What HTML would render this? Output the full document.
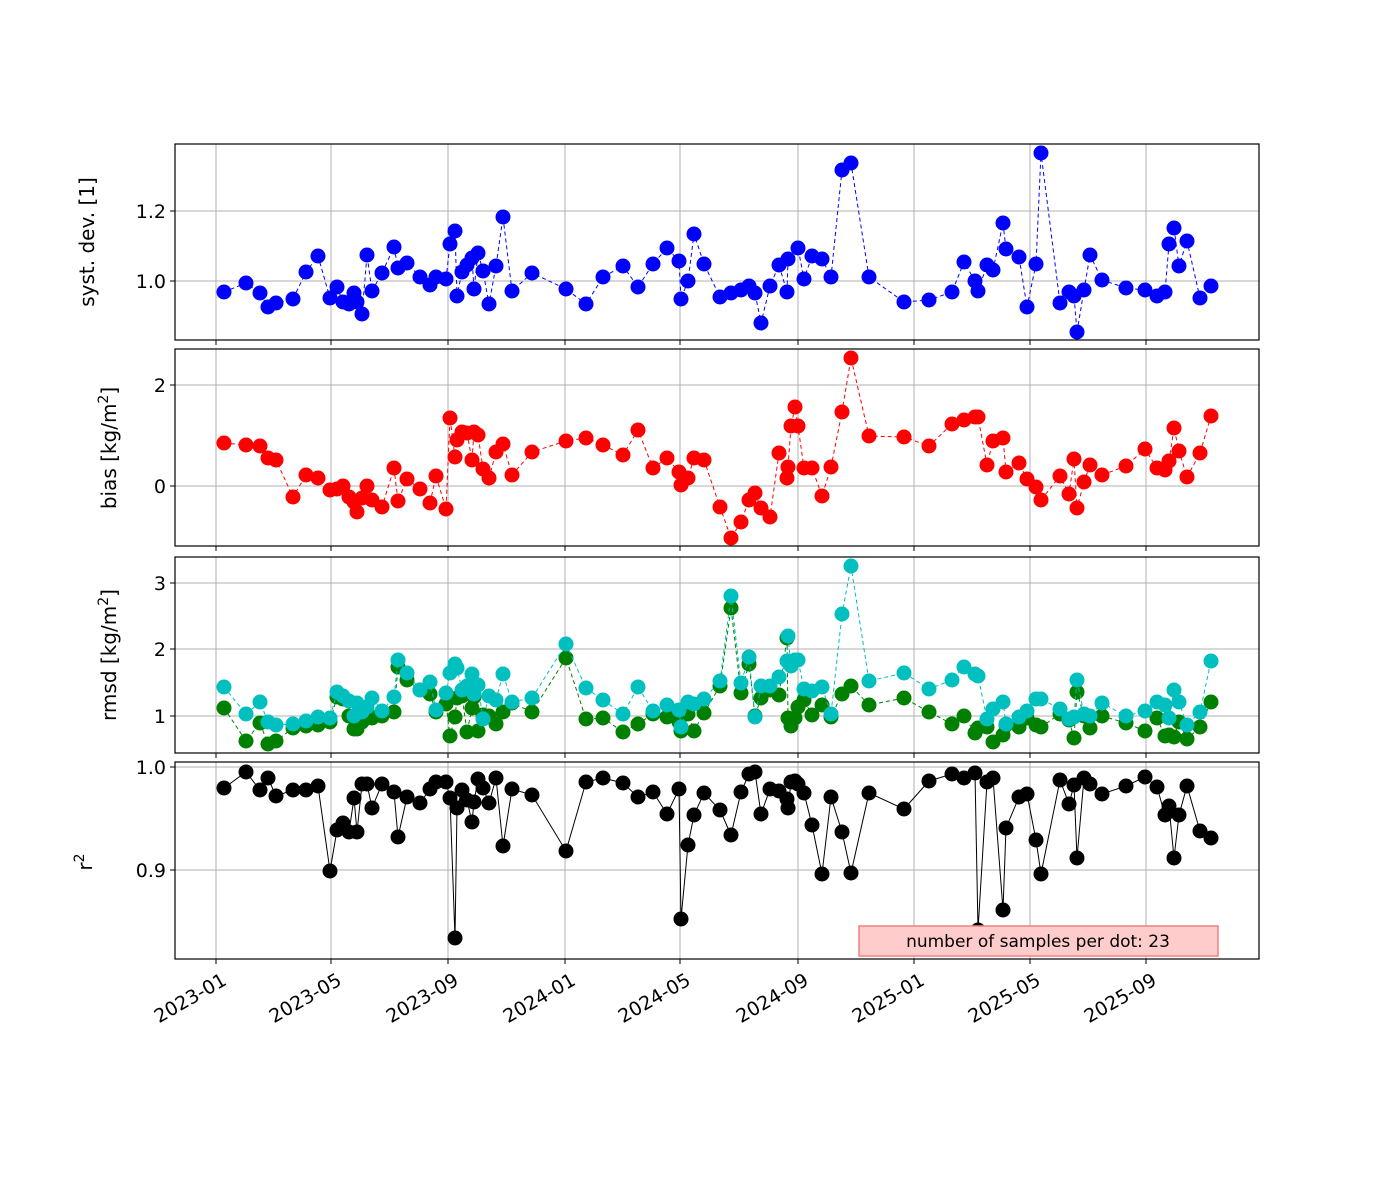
<!DOCTYPE html>
<html><head><meta charset="utf-8"><style>
body{margin:0;background:#fff}
svg{display:block;font-family:"DejaVu Sans","Liberation Sans",sans-serif}
</style></head><body>
<svg id="s" width="1400" height="1200" xmlns="http://www.w3.org/2000/svg"></svg>
<script>
const S=document.getElementById('s');
let h='';
const X0=175,X1=1259;
const panels=[[144,340],[349,546],[557,753],[762,959]];
const xt=[[216,'2023-01'],[331,'2023-05'],[448,'2023-09'],[565,'2024-01'],[680,'2024-05'],[798,'2024-09'],[914,'2025-01'],[1030,'2025-05'],[1146,'2025-09']];
const yt=[[[211,'1.2'],[281,'1.0']],[[385,'2'],[486,'0']],[[583,'3'],[649,'2'],[716,'1']],[[767,'1.0'],[870,'0.9']]];
const xs=[224,246,260,268,276,293,306,318,330,337,343,349,354,357,362,367,372,382,394,398,407,420,430,436,446,450,455,457,462,467,472,474,478,483,489,496,503,512,532,566,586,603,623,638,653,667,679,681,688,694,704,720,731,741,749,755,761,770,779,787,788,791,795,798,804,812,822,831,842,851,869,904,929,952,964,975,978,987,993,1003,1006,1019,1027,1036,1041,1060,1069,1074,1077,1084,1090,1102,1126,1145,1157,1165,1169,1174,1179,1187,1200,1211];
const blue=[[224,292],[246,283],[260,293],[268,307],[276,303],[293,299],[306,272],[318,256],[330,298],[337,287],[343,302],[349,304],[354,293],[357,302],[362,314],[367,255],[372,291],[382,273],[394,247],[398,268],[407,263],[420,277],[430,285],[436,277],[446,279],[450,244],[455,231],[457,296],[462,272],[467,265],[472,258],[474,289],[478,253],[483,271],[489,304],[496,266],[503,217],[512,291],[532,273],[566,289],[586,304],[603,277],[623,266],[638,287],[653,264],[667,248],[679,261],[681,299],[688,281],[694,234],[704,264],[720,297],[731,293],[741,290],[749,286],[755,293],[761,323],[770,286],[779,265],[787,292],[788,259],[798,248],[804,279],[812,256],[822,259],[831,277],[842,170],[851,163],[869,277],[904,302],[929,300],[952,292],[964,262],[975,281],[978,291],[987,265],[993,270],[1003,223],[1006,249],[1019,257],[1027,307],[1036,264],[1041,153],[1060,303],[1069,292],[1074,296],[1077,332],[1084,290],[1090,255],[1102,280],[1126,288],[1145,290],[1157,296],[1165,292],[1169,244],[1174,228],[1179,266],[1187,241],[1200,298],[1211,286]];
const red=[443,445,446,458,460,497,475,478,490,489,486,497,502,512,498,486,500,507,468,501,479,489,503,476,509,418,457,440,432,433,460,432,435,469,478,452,444,475,452,441,438,445,455,430,468,458,472,485,478,458,460,507,538,522,500,493,508,517,453,478,467,426,407,426,468,468,496,467,412,358,436,437,446,424,420,417,417,465,441,438,472,463,479,487,500,476,494,459,508,482,465,475,466,449,468,470,461,428,451,477,453,416];
const green=[708,741,723,744,741,728,726,725,722,697,699,716,729,729,722,712,718,716,712,667,680,690,694,712,704,736,717,698,696,732,708,697,731,715,716,724,712,703,712,658,719,718,732,724,714,717,722,731,714,731,713,686,608,693,664,716,698,690,695,638,718,726,718,707,700,715,705,717,694,686,705,698,712,724,716,733,728,727,742,735,725,727,718,725,727,714,720,738,692,716,728,716,723,731,718,736,735,737,722,739,727,702];
const cyan=[687,714,702,722,725,724,721,717,718,692,696,701,716,703,712,707,698,711,697,660,673,690,682,710,693,673,664,668,690,686,674,694,685,719,696,700,674,702,698,644,688,700,714,687,711,705,710,727,702,704,699,681,596,683,657,717,686,686,677,661,636,666,660,660,689,691,687,714,614,566,681,673,689,680,667,674,676,719,709,702,724,717,711,699,699,709,719,717,680,714,716,703,716,711,702,705,718,690,702,725,712,661];
const black=[788,772,790,778,796,790,790,786,871,830,823,832,798,832,784,784,808,784,792,837,797,803,789,782,782,798,938,808,790,800,822,802,779,788,803,778,846,789,795,851,782,778,783,797,792,814,789,919,845,815,793,810,835,792,774,772,814,789,791,799,808,782,781,784,793,825,874,797,832,873,793,809,781,774,778,773,930,782,778,910,828,797,794,840,874,780,804,785,858,778,784,794,786,777,787,815,806,858,815,786,831,838];
const mk=(ys)=>ys.map((y,k)=>[xs[k],y]);
const series=[[0,blue,'#0000ff','4,3'],[1,mk(red),'#ff0000','4,3'],[2,mk(green),'#008000','4,3'],[2,mk(cyan),'#00bfbf','4,3'],[3,mk(black),'#000','']];
h+='<defs>';panels.forEach((p,i)=>{h+=`<clipPath id="c${i}"><rect x="${X0}" y="${p[0]}" width="${X1-X0}" height="${p[1]-p[0]}"/></clipPath>`});h+='</defs>';
panels.forEach((p,i)=>{
  h+=`<g stroke="#b0b0b0" stroke-width="1">`;
  xt.forEach(t=>h+=`<line x1="${t[0]}" x2="${t[0]}" y1="${p[0]}" y2="${p[1]}"/>`);
  yt[i].forEach(t=>h+=`<line x1="${X0}" x2="${X1}" y1="${t[0]}" y2="${t[0]}"/>`);
  h+='</g>';
  yt[i].forEach(t=>h+=`<line x1="${X0-5}" x2="${X0}" y1="${t[0]}" y2="${t[0]}" stroke="#000"/><text x="${X0-9}" y="${t[0]+7}" font-size="19" text-anchor="end">${t[1]}</text>`);
  xt.forEach(t=>h+=`<line x1="${t[0]}" x2="${t[0]}" y1="${p[1]}" y2="${p[1]+5}" stroke="#000"/>`);
});
series.forEach(s=>{
  const [pi,pts0,c,d]=s;
  const pts=pts0.map(p=>p[0]+','+p[1]).join(' ');
  h+=`<g clip-path="url(#c${pi})"><polyline points="${pts}" fill="none" stroke="${c}" stroke-width="1" ${d?`stroke-dasharray="${d}"`:''}/>`;
  pts0.forEach(p=>h+=`<circle cx="${p[0]}" cy="${p[1]}" r="7.5" fill="${c}"/>`);
  h+='</g>';
});
panels.forEach(p=>h+=`<rect x="${X0}" y="${p[0]}" width="${X1-X0}" height="${p[1]-p[0]}" fill="none" stroke="#000" stroke-width="1.2"/>`);
xt.forEach(t=>h+=`<text transform="translate(${t[0]+5},${972}) rotate(-30)" font-size="19" text-anchor="end" dominant-baseline="hanging">${t[1]}</text>`);
h+=`<text transform="translate(94,242) rotate(-90)" font-size="20" text-anchor="middle">syst. dev. [1]</text>`;
h+=`<text transform="translate(116,448) rotate(-90)" font-size="20" text-anchor="middle">bias [kg/m<tspan baseline-shift="super" font-size="14">2</tspan>]</text>`;
h+=`<text transform="translate(116,655) rotate(-90)" font-size="20" text-anchor="middle">rmsd [kg/m<tspan baseline-shift="super" font-size="14">2</tspan>]</text>`;
h+=`<text transform="translate(92,862) rotate(-90)" font-size="20" text-anchor="middle">r<tspan baseline-shift="super" font-size="14">2</tspan></text>`;
h+=`<rect x="859" y="926" width="359" height="30" fill="#ffcccc" stroke="#f08080" stroke-width="1.5"/><text x="1038" y="947" font-size="17" text-anchor="middle">number of samples per dot: 23</text>`;
S.innerHTML=h;
</script>
</body></html>
